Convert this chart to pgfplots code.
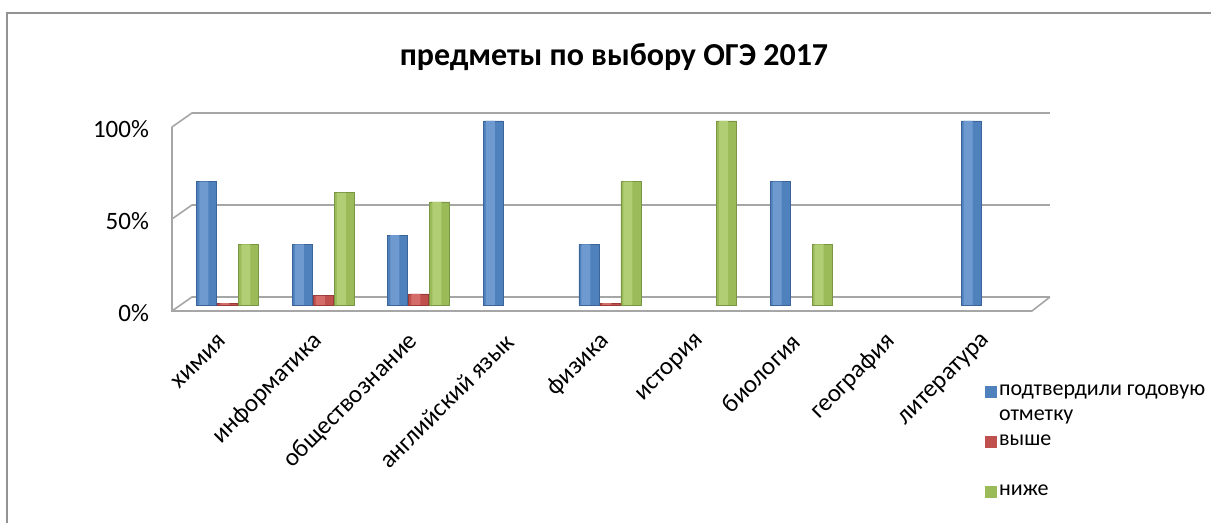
\documentclass[border=0pt]{standalone}
\usepackage{fontspec}
\setmainfont{Carlito}
\usepackage{pgfplots}
\pgfplotsset{compat=1.18}

\definecolor{blueC}{HTML}{4F81BD}
\definecolor{blueL}{HTML}{6E9AD0}
\definecolor{blueD}{HTML}{3B6598}
\definecolor{redC}{HTML}{C0504D}
\definecolor{redL}{HTML}{D46C69}
\definecolor{redD}{HTML}{983B39}
\definecolor{greenC}{HTML}{9BBB59}
\definecolor{greenL}{HTML}{B1CE74}
\definecolor{greenD}{HTML}{7A9644}
\definecolor{wallC}{HTML}{A6A6A6}

\pgfplotstableread{
x blue
0 67
1 33
2 38
3 100
4 33
6 67
8 100
}\tblue
\pgfplotstableread{
x red
0 1
1 5
2 6
4 1
}\tred
\pgfplotstableread{
x green
0 33
1 61
2 56
4 67
5 100
6 33
}\tgreen

\begin{document}
\begin{tikzpicture}
\useasboundingbox (0,0) rectangle (605.5pt,261.5pt);
\draw[color=gray!85, line width=1pt] (3.5pt,-5pt) -- (3.5pt,255pt) -- (615pt,255pt);
\node[font=\fontsize{16}{19}\selectfont\bfseries] at (307pt,233pt) {предметы по выбору ОГЭ 2017};

\begin{axis}[
  at={(90pt,109pt)}, anchor=south west,
  scale only axis, width=430pt, height=92pt,
  xmin=-0.5, xmax=8.5, ymin=0, ymax=100,
  ytick={0,50,100}, yticklabels={0\%,50\%,100\%},
  xtick={0,...,8},
  xticklabels={химия,информатика,обществознание,английский язык,физика,история,биология,география,литература},
  axis line style={draw=none}, major tick length=0pt,
  tick label style={font=\fontsize{12.5}{15}\selectfont},
  yticklabel style={yshift=-4pt},
  yticklabel shift=12pt,
  xticklabel style={rotate=45, anchor=east},
  xticklabel shift=14pt,
  ybar, bar width=10pt,
  legend style={at={(0.936,-0.40)}, anchor=north west, draw=none, fill=none,
    inner sep=0pt, row sep=0pt,
    font=\fontsize{11}{13}\selectfont,
    nodes={inner sep=1pt, text height=7.5pt, text depth=3pt}},
  legend cell align=left,
  clip=false,
]
% 3D walls
\draw[wallC, line width=0.8pt]
  ([shift={(-4pt,-3pt)}]rel axis cs:0,1) -- ([shift={(-4pt,-3pt)}]rel axis cs:0,0)
  -- ([shift={(-4pt,-3pt)}]rel axis cs:1,0) -- ([shift={(5pt,4pt)}]rel axis cs:1,0);
\draw[wallC, line width=0.8pt]
  ([shift={(-4pt,-3pt)}]rel axis cs:0,0) -- ([shift={(6pt,4pt)}]rel axis cs:0,0)
  -- ([shift={(5pt,4pt)}]rel axis cs:1,0);
\draw[wallC, line width=0.8pt]
  ([shift={(-4pt,-3pt)}]rel axis cs:0,0.5) -- ([shift={(6pt,4pt)}]rel axis cs:0,0.5)
  -- ([shift={(5pt,4pt)}]rel axis cs:1,0.5);
\draw[wallC, line width=0.8pt]
  ([shift={(-4pt,-3pt)}]rel axis cs:0,1) -- ([shift={(6pt,4pt)}]rel axis cs:0,1)
  -- ([shift={(5pt,4pt)}]rel axis cs:1,1);

% blue series
\addplot[bar shift=-10.5pt, draw=blueD, fill=blueC,
  legend image code/.code={\fill[blueC] (0pt,-2.75pt) rectangle (5.5pt,2.75pt);}]
  table[x=x, y=blue] {\tblue};
\addlegendentry{подтвердили годовую}
\addlegendimage{empty legend}
\addlegendentry{отметку}
\addplot[forget plot, bar shift=-12pt, bar width=4.5pt, draw=none, fill=blueL]
  table[x=x, y=blue] {\tblue};

% red series
\addplot[bar shift=0pt, draw=redD, fill=redC,
  legend image code/.code={\fill[redC] (0pt,-2.75pt) rectangle (5.5pt,2.75pt);}]
  table[x=x, y=red] {\tred};
\addlegendentry{выше}
\addplot[forget plot, bar shift=-1.5pt, bar width=4.5pt, draw=none, fill=redL]
  table[x=x, y=red] {\tred};

\addlegendimage{empty legend}
\addlegendentry{}

% green series
\addplot[bar shift=10.5pt, draw=greenD, fill=greenC,
  legend image code/.code={\fill[greenC] (0pt,-2.75pt) rectangle (5.5pt,2.75pt);}]
  table[x=x, y=green] {\tgreen};
\addlegendentry{ниже}
\addplot[forget plot, bar shift=9pt, bar width=4.5pt, draw=none, fill=greenL]
  table[x=x, y=green] {\tgreen};
\end{axis}
\end{tikzpicture}
\end{document}
